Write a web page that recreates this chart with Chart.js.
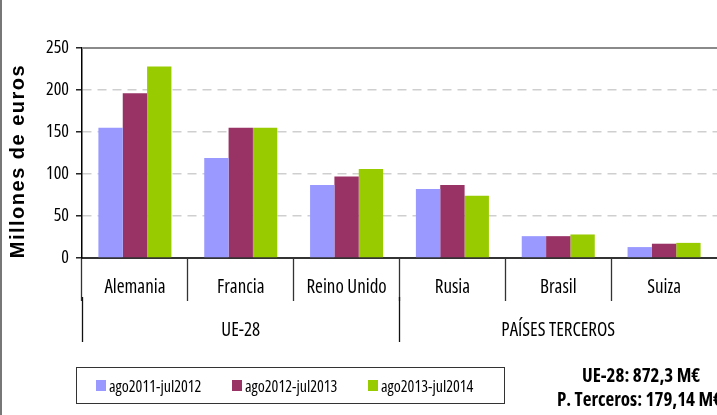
<!DOCTYPE html>
<html lang="es">
<head>
<meta charset="utf-8">
<title>Millones de euros</title>
<script src="https://cdn.jsdelivr.net/npm/chart.js@4.4.1/dist/chart.umd.min.js"></script>
<style>
  body { margin: 0; background: #fff; overflow: hidden; }
  #wrap { position: relative; width: 717px; height: 415px; overflow: hidden; }
  #chart { position: absolute; left: 0; top: 0; }
  .legend {
    position: absolute; left: 76px; top: 367px; width: 429px; height: 37px;
    border: 1px solid #333; box-sizing: border-box;
    display: flex; align-items: center; padding-left: 19px;
    font-family: "Open Sans", sans-serif; font-stretch: condensed; font-size: 16px; color: #000;
  }
  .legend .item { width: 144px; display: flex; align-items: center; white-space: nowrap; }
  .legend .box { width: 10px; height: 11px; margin-right: 3px; }
  .totals {
    position: absolute; white-space: nowrap;
    font-family: "Open Sans", sans-serif; font-stretch: condensed; font-weight: bold; font-size: 19px; color: #000;
  }
</style>
</head>
<body>
<div id="wrap">
  <canvas id="chart" width="717" height="415"></canvas>
  <div class="legend" id="legend"></div>
  <div class="totals" id="tot1" style="left:582px; top:362px;"></div>
  <div class="totals" id="tot2" style="left:557px; top:386px;"></div>
</div>
<script>
// datos
const countries = ['Alemania', 'Francia', 'Reino Unido', 'Rusia', 'Brasil', 'Suiza'];
const groups = ['UE-28', 'PAÍSES TERCEROS'];
const periods = ['ago2011-jul2012', 'ago2012-jul2013', 'ago2013-jul2014'];
const serie2012 = [155, 119, 87, 82, 26, 13];
const serie2013 = [196, 155, 97, 87, 26, 17];
const serie2014 = [228, 155, 106, 74, 28, 18];
const yTicks = [0, 50, 100, 150, 200, 250];
const yAxisTitle = 'Millones de euros';
const totals = ['UE-28: 872,3 M€', 'P. Terceros: 179,14 M€'];

const colors = ['#9999FF', '#993366', '#99CC00'];
// Open Sans en su variante estrecha (la fuente original es Arial Narrow)
const narrowFont = size => ({ family: '"Open Sans", sans-serif', weight: 'condensed', size: size });
// la ultima linea de separacion (borde derecho) queda fuera de la imagen
const sepColor = color => c => (c.type === 'tick' ? color : 'rgba(0,0,0,0)');

// titulo del eje Y con espaciado entre letras, y bordes del grafico
const decor = {
  id: 'decor',
  afterDraw(chart) {
    const c = chart.ctx;
    const area = chart.chartArea;
    c.save();
    // linea superior del area del grafico
    c.strokeStyle = '#8a8a8a';
    c.lineWidth = 2;
    c.beginPath();
    c.moveTo(area.left, area.top);
    c.lineTo(chart.width, area.top);
    c.stroke();
    // marco izquierdo
    c.strokeStyle = '#777';
    c.beginPath();
    c.moveTo(1, 0);
    c.lineTo(1, chart.height);
    c.stroke();
    // titulo
    c.translate(24, 161);
    c.rotate(-Math.PI / 2);
    c.font = 'bold 20px "Liberation Sans", Arial, sans-serif';
    c.letterSpacing = '1.5px';
    c.fillStyle = '#000';
    c.textAlign = 'center';
    c.textBaseline = 'alphabetic';
    c.fillText(yAxisTitle, 0, 0);
    c.restore();
  }
};

new Chart(document.getElementById('chart'), {
  type: 'bar',
  data: {
    labels: countries,
    datasets: [serie2012, serie2013, serie2014].map((d, i) => ({
      label: periods[i],
      data: d,
      backgroundColor: colors[i],
      borderWidth: 0,
      barPercentage: 1,
      categoryPercentage: 0.69
    }))
  },
  options: {
    responsive: false,
    animation: false,
    layout: { padding: { top: 48, right: 0, bottom: 73, left: 0 } },
    plugins: {
      legend: { display: false },
      tooltip: { enabled: false }
    },
    scales: {
      x: {
        weight: 0,
        offset: true,
        grid: {
          offset: true,
          drawOnChartArea: false,
          drawTicks: true,
          tickLength: 43,
          tickColor: sepColor('#333'),
          tickWidth: 1.3
        },
        border: { display: true, color: '#333', width: 2 },
        ticks: {
          color: '#000',
          font: narrowFont(19),
          padding: -25,
          maxRotation: 0,
          autoSkip: false
        },
        afterFit: s => { s.height = 39; }
      },
      x2: {
        type: 'category',
        position: 'bottom',
        weight: 1,
        labels: groups,
        offset: true,
        grid: {
          offset: true,
          drawOnChartArea: false,
          drawTicks: true,
          tickLength: 45,
          tickColor: sepColor('#111'),
          tickWidth: 1.3
        },
        border: { display: false },
        ticks: {
          color: '#000',
          font: narrowFont(19),
          padding: -23,
          maxRotation: 0,
          autoSkip: false
        },
        afterFit: s => { s.height = 45; }
      },
      y: {
        min: 0,
        max: 250,
        afterBuildTicks: s => { s.ticks = yTicks.map(v => ({ value: v })); },
        grid: {
          color: c => (c.tick && (c.tick.value === 0 || c.tick.value === 250)) ? 'rgba(0,0,0,0)' : '#cfcfcf',
          lineWidth: 1.6,
          drawTicks: true,
          tickLength: 6,
          tickColor: '#000',
          tickWidth: 1.3
        },
        border: { display: true, color: '#000', width: 1.5, dash: [9, 6] },
        ticks: {
          color: '#000',
          font: narrowFont(18),
          padding: 7
        },
        afterFit: s => { s.width = 82; }
      }
    }
  },
  plugins: [decor]
});

// leyenda
const legend = document.getElementById('legend');
periods.forEach((p, i) => {
  const item = document.createElement('div');
  item.className = 'item';
  const box = document.createElement('span');
  box.className = 'box';
  box.style.background = colors[i];
  const txt = document.createElement('span');
  txt.textContent = p;
  item.appendChild(box);
  item.appendChild(txt);
  legend.appendChild(item);
});
document.getElementById('tot1').textContent = totals[0];
document.getElementById('tot2').textContent = totals[1];
</script>
</body>
</html>
